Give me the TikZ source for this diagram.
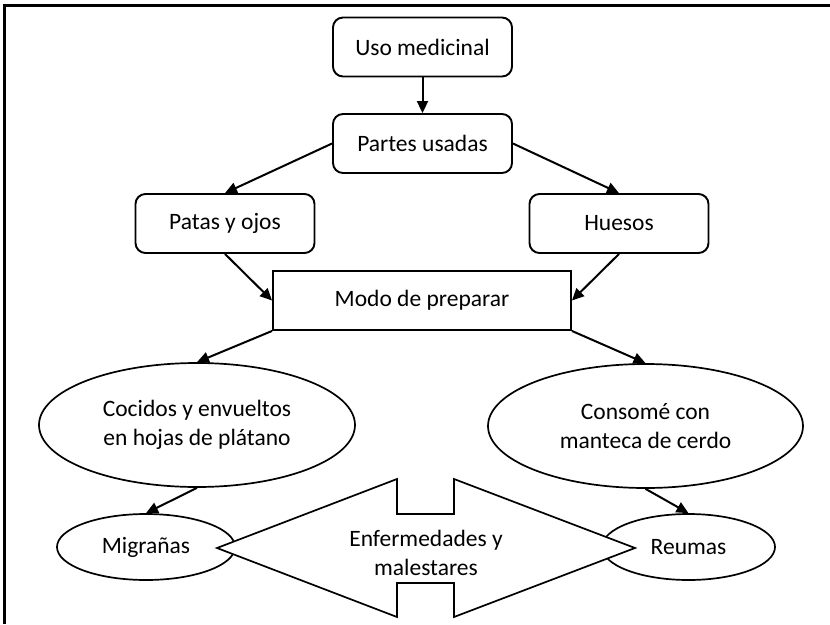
\documentclass[tikz,border=0pt]{standalone}
\usepackage{fontspec}
\setmainfont{Carlito}
\usetikzlibrary{arrows.meta,shapes.geometric}
\begin{document}
\begin{tikzpicture}[x=1pt,y=-1pt,
  every node/.style={font=\fontsize{23.5}{29}\selectfont},
  rbox/.style={draw,line width=1.9pt,rounded corners=10pt,minimum width=179pt,minimum height=59pt,inner sep=0pt},
  sbox/.style={draw,line width=1.9pt,minimum width=298pt,minimum height=59pt,inner sep=0pt},
  ell/.style={draw,line width=1.7pt,ellipse,inner sep=0pt,align=center},
  conn/.style={line width=2pt,-{Triangle[length=12pt,width=11pt]}}]
\useasboundingbox (0,0) rectangle (830,624);
% outer frame (right and bottom edges lie outside the picture)
\draw[line width=2.6pt] (4.7,624) -- (4.7,5.5) -- (830,5.5);
% boxes
\node[rbox] (uso) at (422.5,47) {Uso medicinal};
\node[rbox] (partes) at (422.5,143.5) {Partes usadas};
\node[rbox] (patas) at (225,223.5) {Patas y ojos};
\node[rbox] (huesos) at (619,223.5) {Huesos};
\node[sbox] (modo) at (422,300.5) {Modo de preparar};
\node[ell,minimum width=316pt,minimum height=124pt] (cocidos) at (197,425) {Cocidos y envueltos\\en hojas de plátano};
\node[ell,minimum width=315pt,minimum height=124pt] (consome) at (645.5,426) {Consomé con\\manteca de cerdo};
\node[ell,minimum width=178pt,minimum height=66pt] (migranas) at (146,547) {Migrañas};
\node[ell,minimum width=173pt,minimum height=66pt] (reumas) at (688.5,547) {Reumas};
% connectors
\draw[conn] (uso.south) -- (partes.north);
\draw[conn] (partes.west) -- (patas.north);
\draw[conn] (partes.east) -- (huesos.north);
\draw[conn] (patas.south) -- (modo.west);
\draw[conn] (huesos.south) -- (modo.east);
\draw[conn] (modo.south west) -- (cocidos.north);
\draw[conn] (modo.south east) -- (consome.north);
\draw[conn] (cocidos.south) -- (migranas.north);
\draw[conn] (consome.south) -- (reumas.north);
% double arrow
\draw[line width=1.7pt,fill=white,line join=miter]
  (217,548) -- (397,479) -- (397,514) -- (454,514) -- (454,479) -- (635,548)
  -- (454,617) -- (454,583) -- (397,583) -- (397,617) -- cycle;
\node[align=center] (enf) at (426,553) {Enfermedades y\\malestares};
\end{tikzpicture}
\end{document}
